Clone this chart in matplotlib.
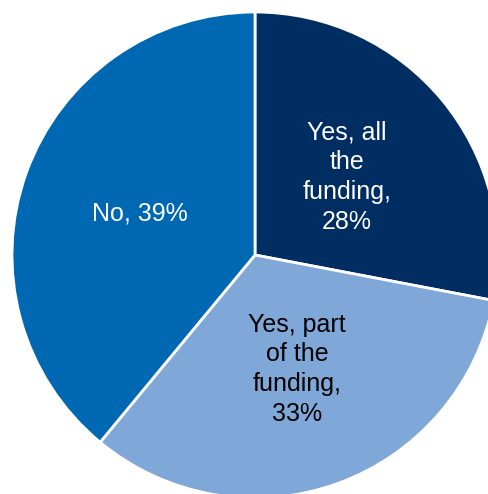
import matplotlib.pyplot as plt

plt.rcParams['font.family'] = ['Liberation Sans', 'DejaVu Sans']

# Share of respondents by answer
labels = ['Yes, all\nthe\nfunding,', 'Yes, part\nof the\nfunding,', 'No,']
values = [28, 33, 39]
colors = ['#002d62', '#7fa8d8', '#0068b3']
text_colors = ['white', 'black', 'white']
# where each label sits inside its slice (data units)
label_pos = [(0.379, 0.32), (0.173, -0.47), (-0.475, 0.17)]

fig = plt.figure(figsize=(4.88, 4.94), dpi=100)
ax = fig.add_axes([0.0246, -0.0081, 0.9959, 0.9838])

ax.pie(values, colors=colors, startangle=90, counterclock=False,
       radius=1.0, wedgeprops=dict(edgecolor='white', linewidth=2))

for lab, val, tc, (x, y) in zip(labels, values, text_colors, label_pos):
    sep = ' ' if lab == 'No,' else '\n'
    ax.text(x, y, f'{lab}{sep}{val}%', ha='center', va='center',
            color=tc, fontsize=18, linespacing=1.3)

ax.set_xlim(-1, 1)
ax.set_ylim(-1, 1)
ax.set_aspect('equal')
ax.axis('off')

fig.savefig('out.png', dpi=100)
